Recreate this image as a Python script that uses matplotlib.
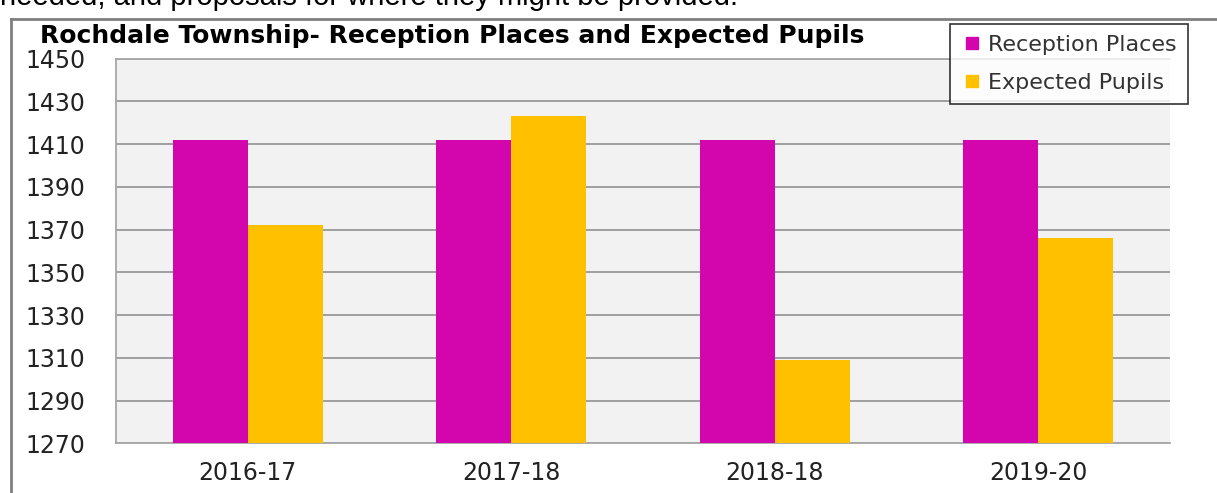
import matplotlib
matplotlib.use("Agg")
import matplotlib.pyplot as plt
import numpy as np
from matplotlib.lines import Line2D

categories = ["2016-17", "2017-18", "2018-18", "2019-20"]
reception_places = [1412, 1412, 1412, 1412]
expected_pupils = [1372, 1423, 1309, 1366]
series_names = ["Reception Places", "Expected Pupils"]
y_ticks = [1270, 1290, 1310, 1330, 1350, 1370, 1390, 1410, 1430, 1450]

c_rec = "#D305AC"
c_exp = "#FFC000"

W, H = 1217, 493
fig = plt.figure(figsize=(W / 100, H / 100), dpi=100)
fig.patch.set_facecolor("white")

ax = fig.add_axes([116 / W, 1 - 443.3 / H, (1170 - 116) / W, (443.3 - 58.7) / H])
ax.set_facecolor("#F2F2F2")

x = np.arange(len(categories))
bw = 0.285
ax.bar(x - bw / 2, reception_places, bw, color=c_rec, zorder=3)
ax.bar(x + bw / 2, expected_pupils, bw, color=c_exp, zorder=3)

ax.set_xlim(-0.5, len(categories) - 0.5)
ax.set_ylim(y_ticks[0], y_ticks[-1])
ax.set_yticks(y_ticks)
ax.set_xticks(x)
ax.set_xticklabels(categories)
ax.yaxis.grid(True, color="#999999", linewidth=1.3, zorder=1)
ax.tick_params(axis="both", length=0, labelsize=17, colors="#222222")
ax.tick_params(axis="y", pad=22)
ax.tick_params(axis="x", pad=13)
for lab in ax.get_yticklabels() + ax.get_xticklabels():
    lab.set_fontfamily("DejaVu Sans")
ax.spines["right"].set_visible(False)
for s in ["left", "bottom", "top"]:
    ax.spines[s].set_color("#A6A6A6")
    ax.spines[s].set_linewidth(1.3)

# title
fig.text(40 / W, 1 - 36 / H, "Rochdale Township- Reception Places and Expected Pupils",
         fontsize=18, fontweight="bold", family="DejaVu Sans", ha="left", va="center")

# legend
handles = [Line2D([], [], marker="s", linestyle="none", markersize=9, color=c_rec),
           Line2D([], [], marker="s", linestyle="none", markersize=9, color=c_exp)]
leg = fig.legend(handles, series_names, loc="upper left",
                 bbox_to_anchor=(950 / W, 1 - 24 / H), borderaxespad=0.0,
                 frameon=True, fancybox=False,
                 prop={"family": "DejaVu Sans", "size": 16}, handletextpad=0.2,
                 labelspacing=0.8, borderpad=0.5, handlelength=1.0)
leg.get_frame().set_edgecolor("#000000")
leg.get_frame().set_linewidth(1.2)
for t in leg.get_texts():
    t.set_color("#333333")

# cut-off body text above the chart
fig.text(0 / W, 1 - 5 / H, "needed, and proposals for where they might be provided.",
         fontsize=21, family="Liberation Sans", ha="left", va="baseline")

# outer chart frame (left and top)
fig.add_artist(Line2D([11 / W, 11 / W], [0, 1 - 19 / H], transform=fig.transFigure,
                      color="#7F7F7F", linewidth=2))
fig.add_artist(Line2D([11 / W, 1], [1 - 19 / H, 1 - 19 / H], transform=fig.transFigure,
                      color="#7F7F7F", linewidth=2))

fig.savefig("out.png", dpi=100)
